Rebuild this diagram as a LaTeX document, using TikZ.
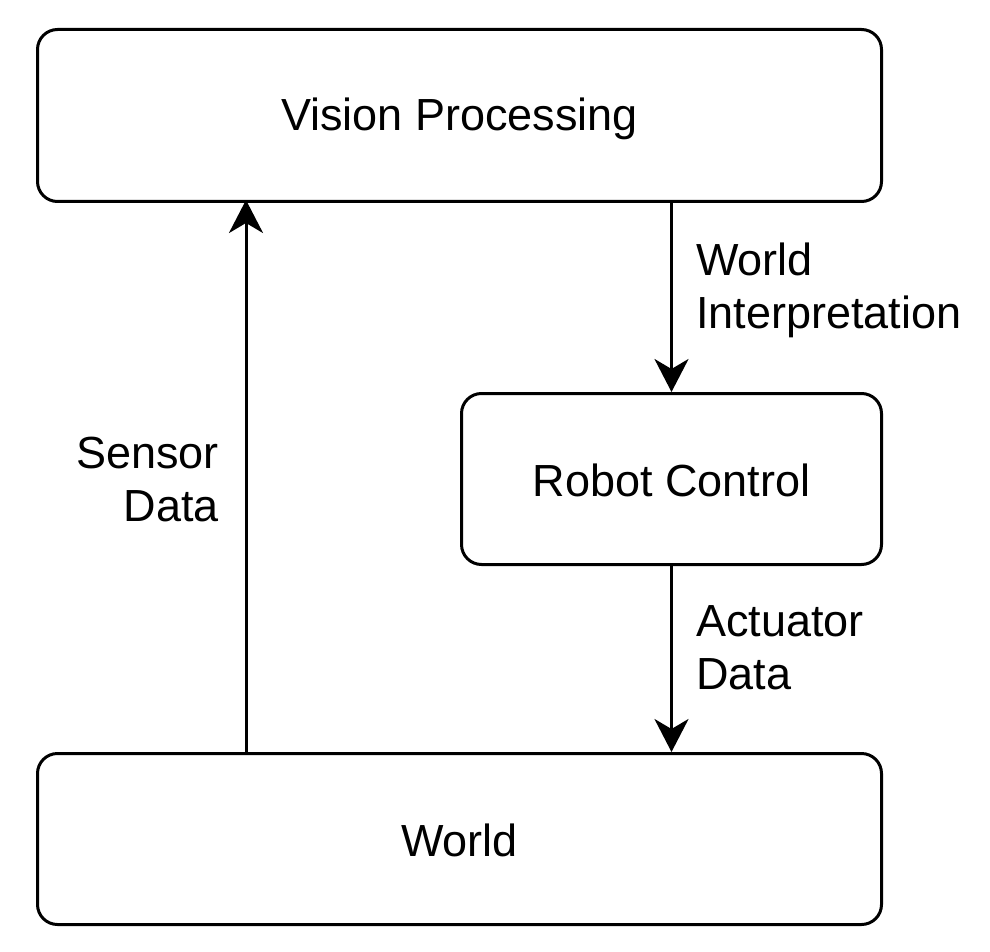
\documentclass[tikz,border=0pt]{standalone}
\usepackage{fontspec}
\setmainfont{Liberation Sans}
\usetikzlibrary{arrows.meta}
\tikzset{
  blk/.style={draw, line width=3pt, rounded corners=20pt, inner sep=0pt, font=\fontsize{45}{53}\selectfont},
  conn/.style={line width=3pt, -{Stealth[length=33pt,width=34pt,inset=10pt]}},
  lbl/.style={font=\fontsize{45}{53}\selectfont, inner sep=0pt},
  txt/.style={font=\fontsize{45}{53}\selectfont, inner sep=0pt, anchor=center}
}
\begin{document}
\begin{tikzpicture}[x=1pt,y=-1pt]
\useasboundingbox (0,0) rectangle (990,952);
\node[blk, minimum width=844pt, minimum height=172pt, anchor=north west] (vp) at (36,28) {};
\node[blk, minimum width=420pt, minimum height=171pt, anchor=north west] (rc) at (460,392) {};
\node[blk, minimum width=844pt, minimum height=171pt, anchor=north west] (w) at (36,752) {};
\node[txt] (vpt) at ([yshift=-3pt]vp.center) {Vision Processing};
\node[txt] (rct) at ([yshift=-1pt]rc.center) {Robot Control};
\node[txt] (wt) at ([yshift=-1pt]w.center) {World};
\coordinate (s1) at (246,752);
\coordinate (s2) at (246,200);
\draw[conn] (s1) -- (s2);
\draw[conn] (vp.south -| rc.south) -- (rc.north);
\draw[conn] (rc.south) -- (rc.south |- w.north);
\node[lbl, align=right, anchor=east] (sd) at (219,480) {Sensor\\Data};
\node[lbl, align=left, anchor=west] (wi) at (696,290) {World\\Interpretation};
\node[lbl, align=left, anchor=west] (ad) at (696,648) {Actuator\\Data};
\end{tikzpicture}
\end{document}
